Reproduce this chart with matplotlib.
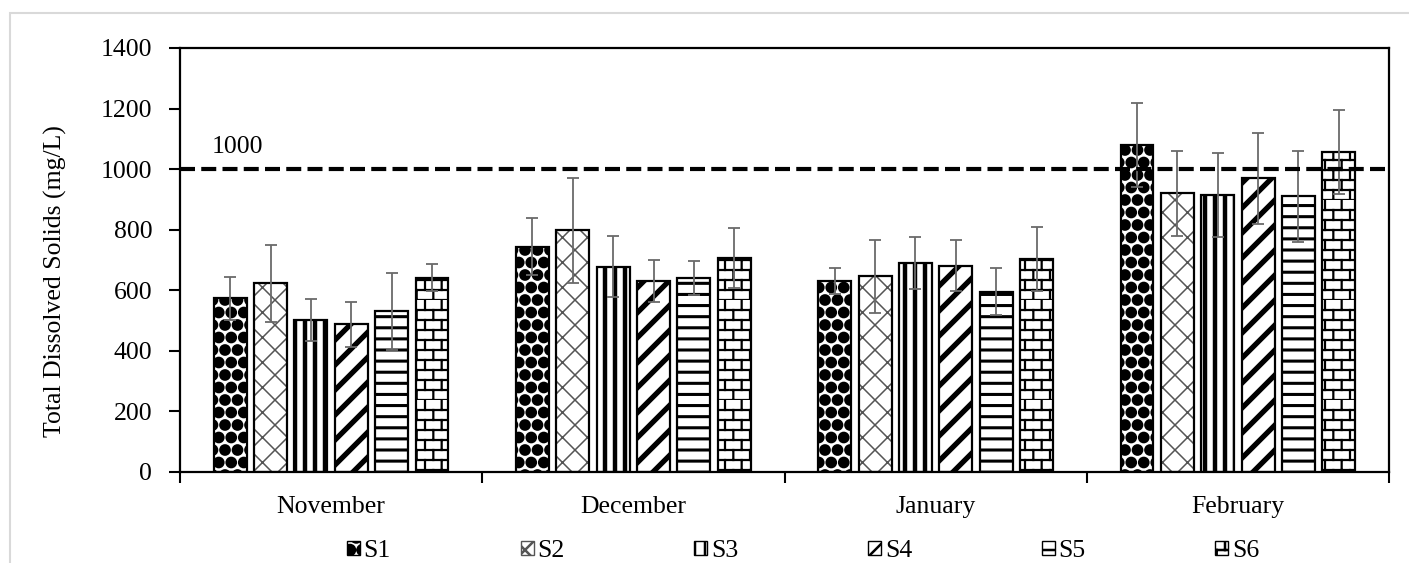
import numpy as np
import matplotlib
matplotlib.use('Agg')
import matplotlib.pyplot as plt
import matplotlib.hatch as mhatch
from matplotlib.path import Path
from matplotlib.patches import Patch, Rectangle

# ---------------- data ----------------
months = ['November', 'December', 'January', 'February']
sites = ['S1', 'S2', 'S3', 'S4', 'S5', 'S6']
s1 = [573, 744, 631, 1080]
s2 = [623, 798, 646, 920]
s3 = [502, 678, 691, 914]
s4 = [488, 630, 681, 970]
s5 = [530, 641, 595, 910]
s6 = [642, 707, 704, 1056]
e1 = [70, 94, 43, 140]
e2 = [127, 174, 120, 141]
e3 = [68, 100, 86, 139]
e4 = [74, 70, 85, 150]
e5 = [127, 55, 77, 151]
e6 = [44, 100, 106, 139]
threshold = 1000
threshold_label = '1000'
yticks = [0, 200, 400, 600, 800, 1000, 1200, 1400]
ylabel = 'Total Dissolved Solids (mg/L)'

values = [s1, s2, s3, s4, s5, s6]
errors = [e1, e2, e3, e4, e5, e6]

# ---------------- custom hatch densities / patterns ----------------
class HHatch(mhatch.HorizontalHatch):
    def __init__(self, hatch, density):
        super().__init__(hatch, 9)

class VHatch(mhatch.VerticalHatch):
    def __init__(self, hatch, density):
        super().__init__(hatch, 10)

class NEHatch(mhatch.NorthEastHatch):
    def __init__(self, hatch, density):
        super().__init__(hatch, 8)

class SEHatch(mhatch.SouthEastHatch):
    def __init__(self, hatch, density):
        super().__init__(hatch, 8)

class FilledLarge(mhatch.LargeCircles):
    filled = True
    size = 0.4

    def __init__(self, hatch, density):
        super().__init__(hatch, 8)

class BrickHatch(mhatch.HatchPatternBase):
    def __init__(self, hatch, density):
        self.rows = 10
        self.cols = 6
        n = hatch.count('*')
        self.num_vertices = (self.rows * 2 + self.rows * self.cols * 2) if n else 0

    def set_vertices_and_codes(self, vertices, codes):
        k = 0
        for i in range(self.rows):
            y0 = i / self.rows
            y1 = (i + 1) / self.rows
            vertices[k] = (0, y0); vertices[k + 1] = (1, y0)
            codes[k] = Path.MOVETO; codes[k + 1] = Path.LINETO
            k += 2
            off = 0.5 / self.cols if i % 2 else 0.0
            for j in range(self.cols):
                xx = j / self.cols + off
                vertices[k] = (xx, y0); vertices[k + 1] = (xx, y1)
                codes[k] = Path.MOVETO; codes[k + 1] = Path.LINETO
                k += 2

mhatch._hatch_types = [HHatch, VHatch, NEHatch, SEHatch,
                       mhatch.SmallCircles, FilledLarge,
                       mhatch.SmallFilledCircles, BrickHatch]

hatches = ['O', 'x', '|', '/', '-', '*']
hatch_colors = ['black', '#555555', 'black', 'black', 'black', 'black']
hatch_lws = [1.2, 1.1, 3.2, 3.8, 2.2, 1.6]

# ---------------- figure ----------------
plt.rcParams['font.family'] = ['Liberation Serif', 'DejaVu Serif']
plt.rcParams['font.size'] = 18.5
plt.rcParams['hatch.linewidth'] = 1.8

W, H = 1409, 563
fig = plt.figure(figsize=(W / 100, H / 100), dpi=100)
fig.patch.set_facecolor('white')
# light chart-area border
fig.add_artist(Rectangle((10 / W, -0.05), 1.2, 1 - 13 / H + 0.05,
                         transform=fig.transFigure, fill=False,
                         edgecolor='#d9d9d9', lw=1.5))

ax = fig.add_axes([180 / W, 1 - 472 / H, (1389 - 180) / W, (472 - 48) / H])

x = np.arange(len(months))
step = 0.1335
width = 0.109
for i, (vals, errs) in enumerate(zip(values, errors)):
    pos = x + (i - 2.5) * step
    with plt.rc_context({'hatch.linewidth': hatch_lws[i]}):
        bars = ax.bar(pos, vals, width, facecolor='white', edgecolor=hatch_colors[i],
                      hatch=hatches[i], lw=0, zorder=2)
    for b in bars:
        if hasattr(b, 'set_hatch_linewidth'):
            b.set_hatch_linewidth(hatch_lws[i])
    ax.bar(pos, vals, width, fill=False, edgecolor='black', lw=1.6, zorder=2.2)
    ax.errorbar(pos, vals, yerr=errs, fmt='none', ecolor='#6a6a6a',
                elinewidth=1.3, capsize=4.5, capthick=1.3, zorder=3)

ax.axhline(threshold, color='black', lw=3, dashes=(3.6, 1.5), zorder=5)
ax.text(-0.394, 1073, threshold_label, ha='left', va='center', fontsize=18.5)

ax.set_xlim(-0.5, len(months) - 0.5)
ax.set_ylim(0, 1400)
ax.set_yticks(yticks)
ax.set_xticks(x)
ax.set_xticklabels(months)
ax.set_xticks(np.arange(len(months) + 1) - 0.5, minor=True)
ax.tick_params(axis='x', which='major', length=0, pad=17)
ax.tick_params(axis='x', which='minor', length=8, width=1.5, direction='out')
ax.tick_params(axis='y', length=8, width=1.5, direction='out', pad=12)
for sp in ax.spines.values():
    sp.set_linewidth(1.6)
    sp.set_color('black')
ax.set_ylabel(ylabel, fontsize=18.5)
ax.yaxis.set_label_coords(67 / W, 0.5, transform=fig.transFigure)

handles = [Patch(facecolor='white', edgecolor=hatch_colors[i], hatch=hatches[i], lw=1.0)
           for i in range(len(sites))]
fig.legend(handles, sites, loc='center left', bbox_to_anchor=(347 / W, 1 - 551 / H),
           ncol=6, frameon=False, handlelength=0.5, handleheight=0.5,
           handletextpad=0.15, columnspacing=5.05, borderpad=0, borderaxespad=0,
           fontsize=18.5)

fig.savefig('out.png', dpi=100, facecolor='white')
